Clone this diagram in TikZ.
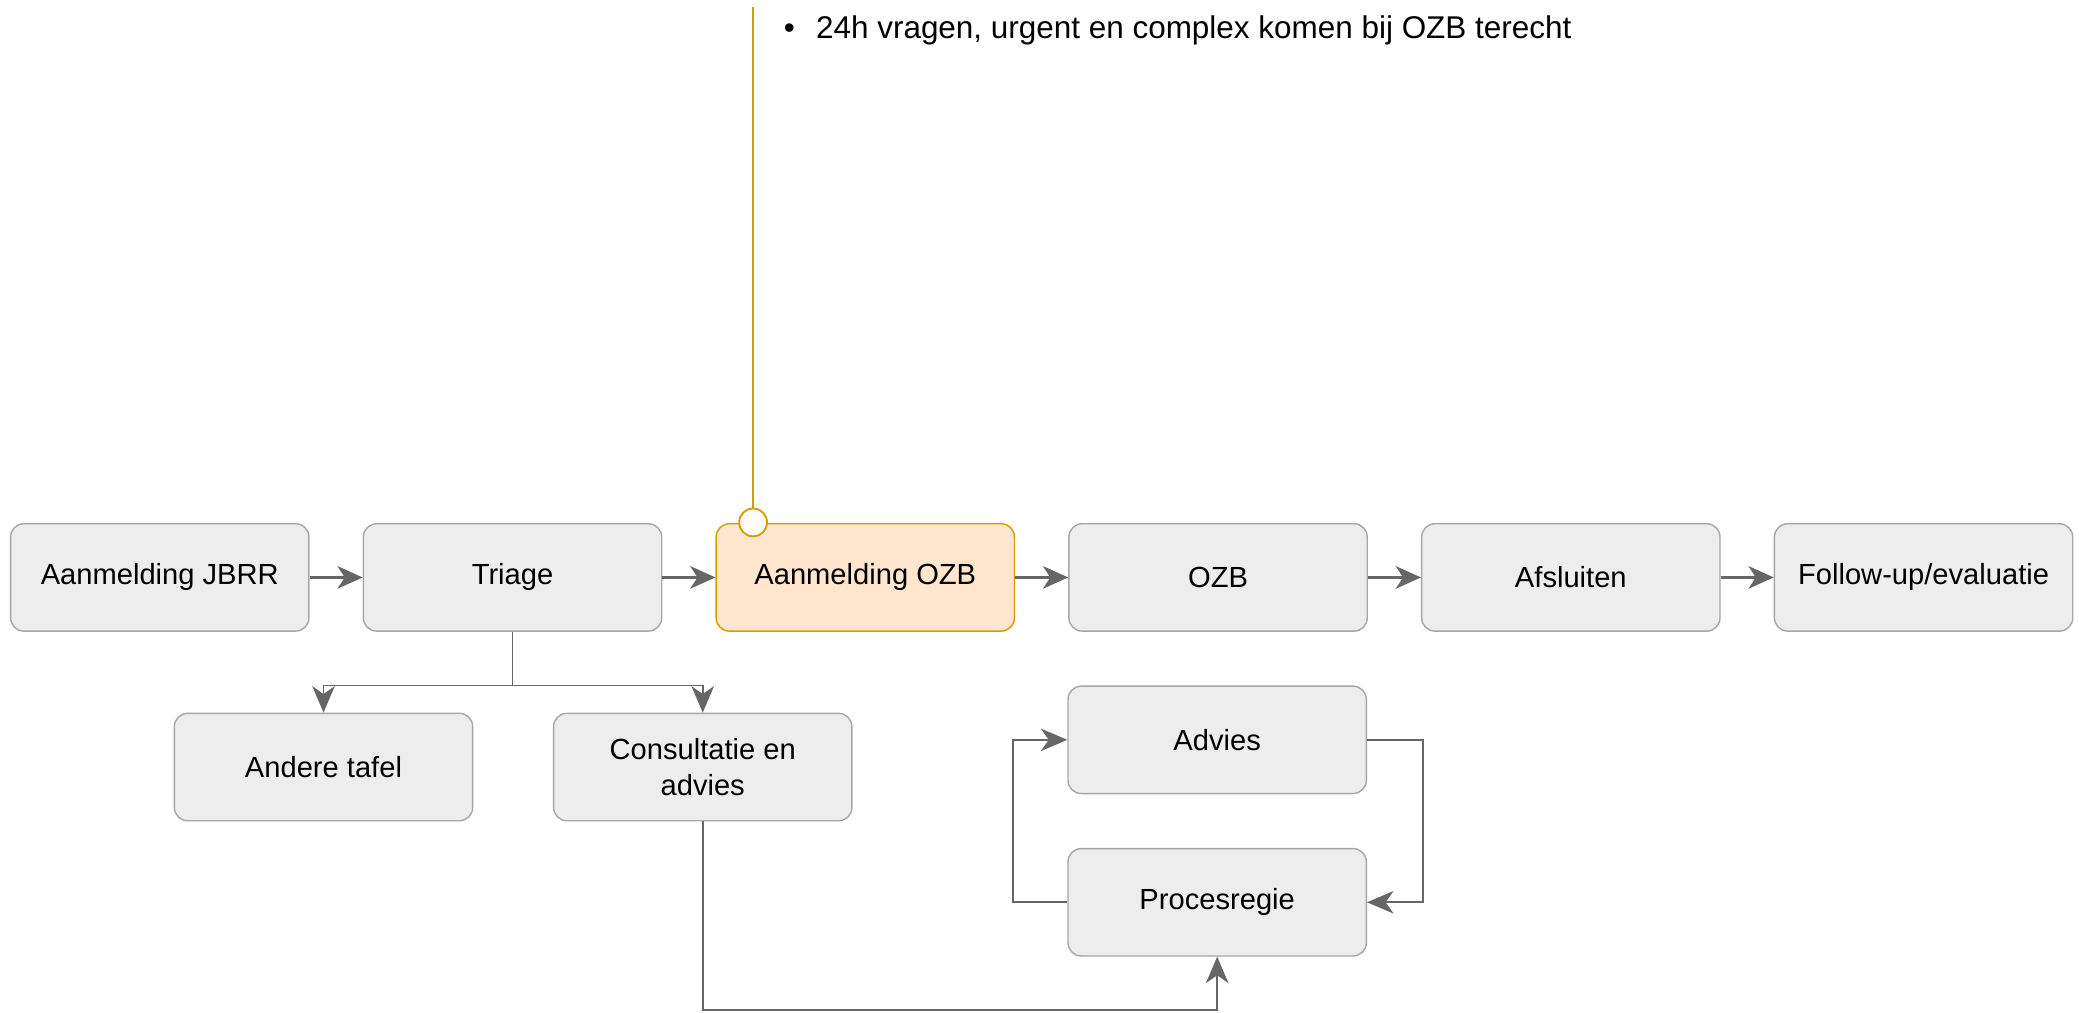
\documentclass[tikz,border=0pt]{standalone}
\usepackage{fontspec}
\setmainfont{Liberation Sans}
\usetikzlibrary{arrows.meta,positioning}
\definecolor{boxfill}{HTML}{EDEDED}
\definecolor{boxline}{HTML}{A6A6A6}
\definecolor{arrowgrey}{HTML}{666666}
\definecolor{ozbfill}{HTML}{FFE6CC}
\definecolor{ozbline}{HTML}{D79B00}
\begin{document}
\begin{tikzpicture}[
    stepbox/.style={draw=boxline, fill=boxfill, line width=0.6pt, rounded corners=0.2cm,
        minimum width=4.5cm, minimum height=1.62cm, align=center, font=\fontsize{12.5}{15.5}\selectfont},
    ozbbox/.style={stepbox, draw=ozbline, fill=ozbfill},
    mainarrow/.style={arrowgrey, line width=1.2pt, -{Stealth[length=0.38cm, width=0.34cm, inset=0.11cm]}},
    subarrow/.style={arrowgrey, line width=0.8pt, -{Stealth[length=0.4cm, width=0.34cm, inset=0.12cm]}},
    node distance=0.8cm
  ]
    \useasboundingbox (0,0) rectangle (31.36,-15.28);

    % Main flow
    \node[stepbox] (jbrr) at (2.41,-8.71) {Aanmelding JBRR};
    \node[stepbox, right=of jbrr] (triage) {Triage};
    \node[ozbbox, right=of triage] (aanmozb) {Aanmelding OZB};
    \node[stepbox, right=of aanmozb] (ozb) {OZB};
    \node[stepbox, right=of ozb] (afsluiten) {Afsluiten};
    \node[stepbox, right=of afsluiten] (followup) {Follow-up/evaluatie};

    \draw[mainarrow] (jbrr) -- (triage);
    \draw[mainarrow] (triage) -- (aanmozb);
    \draw[mainarrow] (aanmozb) -- (ozb);
    \draw[mainarrow] (ozb) -- (afsluiten);
    \draw[mainarrow] (afsluiten) -- (followup);

    % Note pinned on Aanmelding OZB
    \node[circle, draw=ozbline, fill=white, line width=0.8pt, minimum size=0.42cm, inner sep=0pt] (pin) at (11.36,-7.88) {};
    \coordinate (pintop) at (11.36,-0.1);
    \draw[ozbline, line width=0.8pt] (pin) -- (pintop);
    \node[anchor=west, font=\fontsize{13.5}{16}\selectfont] (note) at (11.7,-0.46)
        {\textbullet\hspace{0.32cm}24h vragen, urgent en complex komen bij OZB terecht};

    % Outcomes of triage
    \node[stepbox] (andere) at (4.88,-11.57) {Andere tafel};
    \node[stepbox] (consult) at (10.6,-11.57) {Consultatie en\\advies};
    \coordinate (split) at (triage.south |- 0,-10.34);
    \draw[arrowgrey, line width=0.8pt] (triage) -- (split);
    \draw[subarrow] (split) -| (andere);
    \draw[subarrow] (split) -| (consult);

    % Advies and procesregie loop
    \node[stepbox] (advies) at (18.36,-11.16) {Advies};
    \node[stepbox] (proces) at (18.36,-13.61) {Procesregie};
    \draw[subarrow] (advies.east) -- ++(0.84,0) |- (proces.east);
    \draw[subarrow] (proces.west) -- ++(-0.82,0) |- (advies.west);

    \coordinate (bottom) at (10.6,-15.24);
    \draw[subarrow] (consult) -- (bottom) -| (proces);
\end{tikzpicture}
\end{document}
